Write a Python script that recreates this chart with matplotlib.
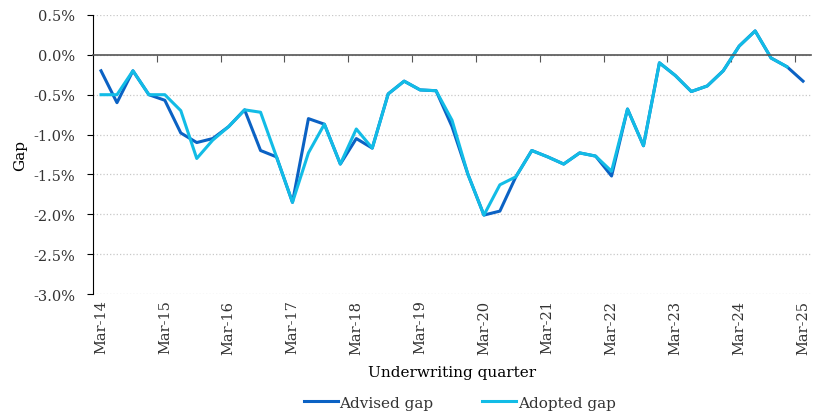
import matplotlib.pyplot as plt
import numpy as np

# quarterly underwriting gap, Mar-14 .. Mar-25 (%)
advised = [-0.20, -0.60, -0.20, -0.50, -0.57, -0.98, -1.10, -1.05, -0.90, -0.69,
           -1.20, -1.28, -1.85, -0.80, -0.87, -1.37, -1.05, -1.17, -0.49, -0.33,
           -0.44, -0.45, -0.90, -1.50, -2.01, -1.96, -1.53, -1.20, -1.28, -1.37,
           -1.23, -1.27, -1.52, -0.68, -1.14, -0.10, -0.26, -0.46, -0.39, -0.20,
           0.11, 0.30, -0.04, -0.15, -0.33]
adopted = [-0.50, -0.50, -0.20, -0.50, -0.50, -0.70, -1.30, -1.07, -0.90, -0.69,
           -0.72, -1.28, -1.85, -1.23, -0.87, -1.37, -0.93, -1.17, -0.49, -0.33,
           -0.44, -0.45, -0.82, -1.50, -2.01, -1.63, -1.53, -1.20, -1.28, -1.37,
           -1.23, -1.27, -1.46, -0.68, -1.14, -0.10, -0.26, -0.46, -0.39, -0.20,
           0.11, 0.30, -0.04, -0.15]
year_labels = ["Mar-14", "Mar-15", "Mar-16", "Mar-17", "Mar-18", "Mar-19",
               "Mar-20", "Mar-21", "Mar-22", "Mar-23", "Mar-24", "Mar-25"]
yticks = [0.5, 0.0, -0.5, -1.0, -1.5, -2.0, -2.5, -3.0]

plt.rcParams['font.family'] = ['DejaVu Serif']
plt.rcParams['font.size'] = 10.5
plt.rcParams['text.color'] = '#333333'
plt.rcParams['xtick.labelcolor'] = '#333333'
plt.rcParams['ytick.labelcolor'] = '#333333'

fig = plt.figure(figsize=(8.14, 4.14), dpi=100)
ax = fig.add_axes([0.1143, 0.2874, 0.882, 0.674])

ax.plot(np.arange(len(advised)), advised, color='#0B62C4', lw=2.2, label='Advised gap')
ax.plot(np.arange(len(adopted)), adopted, color='#12BCE6', lw=2.2, label='Adopted gap')

ax.set_xlim(-0.5, len(advised) - 0.5)
ax.set_ylim(min(yticks), max(yticks))
ax.set_yticks(yticks)
ax.set_yticklabels([f"{v:.1f}%" for v in yticks])
ax.yaxis.grid(True, color='#c8c8c8', ls=':', lw=0.9)
ax.set_axisbelow(True)
ax.tick_params(axis='y', length=4, color='black', pad=9)

for s in ['top', 'right']:
    ax.spines[s].set_visible(False)
ax.spines['left'].set_color('black')
ax.spines['bottom'].set_position(('data', 0))
ax.spines['bottom'].set_color('#555555')
ax.spines['bottom'].set_linewidth(1.2)
ax.set_xticks(np.arange(3.5, len(advised), 4))
ax.tick_params(axis='x', length=5, color='#555555', labelbottom=False)

sec = ax.secondary_xaxis('bottom')
sec.set_xticks(np.arange(0, len(advised), 4))
sec.set_xticklabels(year_labels, rotation=90)
sec.tick_params(length=0, pad=4)
sec.spines['bottom'].set_visible(False)
sec.set_xlabel('Underwriting quarter', labelpad=8, fontsize=11)

ax.set_ylabel('Gap', fontsize=11, labelpad=4)

fig.legend(loc='lower center', bbox_to_anchor=(0.565, -0.025), ncol=2, frameon=False,
           handlelength=2.2, handletextpad=0.1, columnspacing=3.2, fontsize=11)

fig.savefig('out.png', dpi=100)
